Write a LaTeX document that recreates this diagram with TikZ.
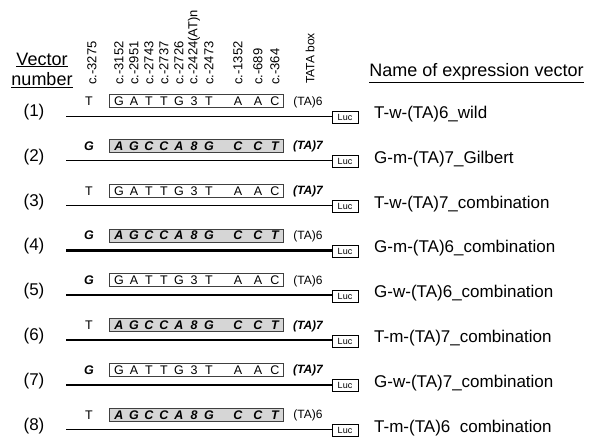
\documentclass[tikz,border=0pt]{standalone}
\usepackage{fontspec}
\setmainfont{Liberation Sans}
\tikzset{
  seq/.style={font=\fontsize{12.5}{14}\selectfont, inner sep=0pt, anchor=base},
  tafont/.style={font=\fontsize{12}{14}\selectfont, inner sep=0pt, anchor=base},
  nrm/.style={},
  bi/.style={execute at begin node=\bfseries\itshape},
  collbl/.style={font=\fontsize{13}{15}\selectfont, rotate=90, anchor=west, inner sep=0pt},
  tatalbl/.style={font=\fontsize{12}{14}\selectfont, rotate=90, anchor=west, inner sep=0pt},
  wbox/.style={draw=black!75, line width=0.8pt, fill=white, minimum width=174pt, minimum height=13pt, inner sep=0pt},
  mbox/.style={draw=black!75, line width=0.8pt, fill=black!16, minimum width=174pt, minimum height=13pt, inner sep=0pt},
  lucbox/.style={draw=black, line width=0.7pt, fill=white, minimum width=26pt, minimum height=12pt, inner sep=0pt, font=\fontsize{9}{10}\selectfont},
  rowno/.style={font=\fontsize{17}{19}\selectfont, inner sep=0pt},
  vname/.style={font=\fontsize{17}{19}\selectfont, inner sep=0pt, anchor=west},
  head/.style={font=\fontsize{18}{20}\selectfont, inner sep=0pt},
  thinln/.style={line width=0.9pt},
  thickln/.style={line width=2.5pt},
}
\newcommand\drawwild[2]{%
  \node[wbox] (box#1) at (196,#2-15) {};
  \foreach \xx/\cc [count=\kk] in {119/G,134/A,149/T,164/T,179/G,194/3,209/T,238/A,258/A,275/C}
    \node[seq] (l#1-\kk) at (\xx,#2-10.5) {\cc};
}
\newcommand\drawmut[2]{%
  \node[mbox] (box#1) at (196,#2-15) {};
  \foreach \xx/\cc [count=\kk] in {119/A,134/G,149/C,164/C,179/A,194/8,209/G,238/C,258/C,275/T}
    \node[seq,bi] (l#1-\kk) at (\xx,#2-10.5) {\cc};
}
\begin{document}
\begin{tikzpicture}[x=1pt,y=-1pt]
\useasboundingbox (0,0) rectangle (591,437);
% header
\node[head] (hv) at (42,60) {\underline{Vector}};
\node[head] (hn) at (42,80) {\underline{number}};
\node[head] (hname) at (476.5,73) {\underline{Name of expression vector}};
\foreach \xx/\tt [count=\kk] in {92/c.-3275,119/c.-3152,134/c.-2951,149/c.-2743,164/c.-2737,179/c.-2726,194/c.-2424(AT)n,209/c.-2473,238/c.-1352,258/c.-689,275/c.-364}
  \node[collbl] (col\kk) at (\xx,85) {\tt};
\node[tatalbl] (tata) at (310,84) {TATA box};
% rows
\foreach \i/\lc/\ls/\bx/\tn/\ts/\lw/\nm in {
  1/T/nrm/wild/6/nrm/thinln/{T-w-(TA)6\_wild},
  2/G/bi/mut/7/bi/thinln/{G-m-(TA)7\_Gilbert},
  3/T/nrm/wild/7/bi/thinln/{T-w-(TA)7\_combination},
  4/G/bi/mut/6/nrm/thickln/{G-m-(TA)6\_combination},
  5/G/bi/wild/6/nrm/thickln/{G-w-(TA)6\_combination},
  6/T/nrm/mut/7/bi/thickln/{T-m-(TA)7\_combination},
  7/G/bi/wild/7/bi/thickln/{G-w-(TA)7\_combination},
  8/T/nrm/mut/6/nrm/thinln/{T-m-(TA)6\ \ combination}}{
  \pgfmathsetmacro\L{116+44.8*(\i-1)}
  \node[seq,\ls] (left\i) at (89,\L-10.5) {\lc};
  \csname draw\bx\endcsname{\i}{\L}
  \node[tafont,\ts] (ta\i) at (308,\L-11) {(TA)\tn};
  \node[lucbox] (luc\i) at (345,\L+1) {Luc};
  \node[rowno] (no\i) at (34,\L-4) {(\i)};
  \node[vname] (nm\i) at (374,\L-2) {\nm};
  \coordinate (s\i) at (66,\L);
  \draw[\lw] (s\i) -- (s\i -| luc\i.west);
}
\end{tikzpicture}
\end{document}
